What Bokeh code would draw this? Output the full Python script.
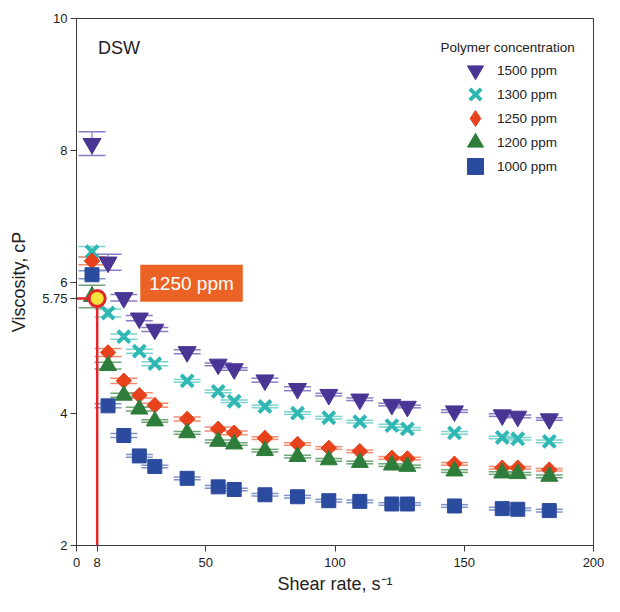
from bokeh.plotting import figure
from bokeh.models import (ColumnDataSource, Range1d, Whisker, TeeHead, Legend, LegendItem,
                          Label, FixedTicker)
from bokeh.embed import file_html
from bokeh.resources import INLINE

# ---------------- data ----------------
shear = [6, 12.2, 18.3, 24.3, 30.3, 42.8, 54.8, 61, 72.9, 85.5, 97.6, 109.6, 122, 128, 146.2, 164.7, 170.7, 182.9]

v1500 = [8.10, 6.30, 5.76, 5.45, 5.28, 4.94, 4.75, 4.68, 4.51, 4.38, 4.29, 4.22, 4.14, 4.11, 4.04, 3.98, 3.96, 3.92]
v1300 = [6.46, 5.53, 5.17, 4.95, 4.76, 4.50, 4.34, 4.19, 4.11, 4.01, 3.94, 3.88, 3.82, 3.77, 3.71, 3.64, 3.62, 3.58]
v1250 = [6.32, 4.93, 4.50, 4.28, 4.13, 3.92, 3.77, 3.71, 3.63, 3.54, 3.48, 3.43, 3.33, 3.32, 3.24, 3.18, 3.18, 3.15]
v1200 = [5.78, 4.73, 4.28, 4.07, 3.89, 3.71, 3.58, 3.54, 3.44, 3.35, 3.30, 3.26, 3.22, 3.20, 3.13, 3.10, 3.09, 3.05]
v1000 = [6.11, 4.12, 3.67, 3.36, 3.20, 3.02, 2.89, 2.85, 2.77, 2.74, 2.68, 2.67, 2.63, 2.63, 2.60, 2.56, 2.55, 2.53]

e1500 = [0.18, 0.12, 0.05, 0.04, 0.03, 0.03, 0.02, 0.02, 0.03, 0.03, 0.02, 0.02, 0.02, 0.02, 0.02, 0.02, 0.02, 0.02]
e1300 = [0.08, 0.06, 0.04, 0.03, 0.03, 0.02, 0.02, 0.02, 0.02, 0.02, 0.02, 0.02, 0.02, 0.02, 0.02, 0.02, 0.02, 0.02]
e1250 = [0.06, 0.06, 0.04, 0.04, 0.03, 0.03, 0.03, 0.03, 0.02, 0.02, 0.02, 0.02, 0.02, 0.02, 0.02, 0.02, 0.02, 0.02]
e1200 = [0.17, 0.05, 0.03, 0.03, 0.02, 0.02, 0.02, 0.02, 0.02, 0.02, 0.02, 0.02, 0.02, 0.02, 0.02, 0.02, 0.02, 0.02]
e1000 = [0.06, 0.03, 0.03, 0.02, 0.02, 0.02, 0.02, 0.02, 0.02, 0.02, 0.02, 0.02, 0.02, 0.02, 0.02, 0.02, 0.02, 0.02]

series_labels = ["1500 ppm", "1300 ppm", "1250 ppm", "1200 ppm", "1000 ppm"]
x_ticks = [0, 50, 100, 150, 200]
y_ticks = [2, 4, 6, 8, 10]

# highlighted point
hl_x = [8]
hl_y = [5.75]
hl_label = "1250 ppm"

FONT = "Liberation Sans"

p = figure(width=604, height=596, output_backend="svg", toolbar_location=None,
           x_range=Range1d(0, 200), y_range=Range1d(2, 10),
           min_border_left=76, min_border_right=11, min_border_top=18, min_border_bottom=50)
p.background_fill_color = "white"
p.border_fill_color = "white"
p.outline_line_color = "#3a3a3a"
p.outline_line_width = 1
p.xgrid.visible = False
p.ygrid.visible = False

for ax in (p.xaxis[0], p.yaxis[0]):
    ax.axis_line_color = "#3a3a3a"
    ax.major_tick_line_color = "#3a3a3a"
    ax.major_tick_in = 0
    ax.major_tick_out = 6
    ax.minor_tick_line_color = None
    ax.major_label_text_font = FONT
    ax.major_label_text_font_size = "13px"
    ax.major_label_text_color = "#222222"
    ax.axis_label_text_font = FONT
    ax.axis_label_text_font_size = "18px"
    ax.axis_label_text_font_style = "normal"
    ax.axis_label_text_color = "#222222"

# the highlighted coordinates are marked on the axes as extra ticks
p.xaxis.ticker = FixedTicker(ticks=sorted(x_ticks + hl_x))
p.yaxis.ticker = FixedTicker(ticks=sorted(y_ticks + hl_y))
p.xaxis.axis_label = "Shear rate, s\u207b\u00b9"
p.yaxis.axis_label = "Viscosity, cP"
p.xaxis.major_label_standoff = 6
p.xaxis.axis_label_standoff = 4
p.yaxis.major_label_standoff = 3
p.yaxis.axis_label_standoff = 10

colors = ["#4a3595", "#2fb8b3", "#e8421c", "#2e7d3a", "#2b4c9e"]
err_colors = ["#8a7cc4", "#7dd3cf", "#f28d72", "#6ea676", "#8193c9"]
values = [v1500, v1300, v1250, v1200, v1000]
errors = [e1500, e1300, e1250, e1200, e1000]

sources = []
for i, (vals, errs) in enumerate(zip(values, errors)):
    src = ColumnDataSource(dict(x=shear, y=vals,
                                upper=[v + e for v, e in zip(vals, errs)],
                                lower=[v - e for v, e in zip(vals, errs)]))
    w = Whisker(source=src, base="x", upper="upper", lower="lower", dimension="height",
                line_color=err_colors[i], line_width=1.2,
                upper_head=TeeHead(size=27, line_color=err_colors[i], line_width=1.5),
                lower_head=TeeHead(size=27, line_color=err_colors[i], line_width=1.5))
    p.add_layout(w)
    sources.append(src)

r1500 = p.scatter("x", "y", source=sources[0], marker="inverted_triangle", size=18,
                  fill_color=colors[0], line_color=colors[0])
r1300 = p.scatter("x", "y", source=sources[1], marker="x", size=17,
                  line_color=colors[1], line_width=4)
# diamond key (narrow, hidden under the rotated squares) used for the legend
r1250_key = p.scatter("x", "y", source=sources[2], marker="diamond", size=15,
                      fill_color=colors[2], line_color=colors[2])
r1250 = p.scatter("x", "y", source=sources[2], marker="square", size=11, angle=0.7854,
                  fill_color=colors[2], line_color=colors[2])
r1200 = p.scatter("x", "y", source=sources[3], marker="triangle", size=17,
                  fill_color=colors[3], line_color=colors[3])
r1000 = p.scatter("x", "y", source=sources[4], marker="square", size=14,
                  fill_color=colors[4], line_color=colors[4])

# highlight annotation
RED = "#e3262b"
p.segment(x0=[0], y0=hl_y, x1=hl_x, y1=hl_y, line_color=RED, line_width=2.5)
p.segment(x0=hl_x, y0=[2], x1=hl_x, y1=hl_y, line_color=RED, line_width=2.5)
p.scatter(hl_x, hl_y, marker="circle", size=16, fill_color="#f3e43c", line_color=RED, line_width=3)

p.add_layout(Label(x=24.67, y=5.70, text=hl_label, text_align="left",
                   text_baseline="bottom", text_font=FONT, text_font_size="19px",
                   text_color="white", background_fill_color="#ea6324", padding=(9, 8)))

# in-plot texts
p.add_layout(Label(x=8.35, y=9.55, text="DSW", text_align="left", text_baseline="middle",
                   text_font=FONT, text_font_size="18px", text_color="#222222"))
p.add_layout(Label(x=140.8, y=9.56, text="Polymer concentration", text_align="left",
                   text_baseline="middle", text_font=FONT, text_font_size="13.5px",
                   text_color="#222222"))

# legend split in two interleaved columns so that the keys can be drawn large
leg_style = dict(padding=0, margin=0, spacing=8, glyph_width=40, glyph_height=40,
                 label_standoff=2, label_text_font=FONT, label_text_font_size="13.5px",
                 label_text_color="#222222", border_line_alpha=0, background_fill_alpha=0)
legend_a = Legend(items=[LegendItem(label=series_labels[0], renderers=[r1500]),
                         LegendItem(label=series_labels[2], renderers=[r1250_key]),
                         LegendItem(label=series_labels[4], renderers=[r1000])],
                  location=(379, 359), **leg_style)
legend_b = Legend(items=[LegendItem(label=series_labels[1], renderers=[r1300]),
                         LegendItem(label=series_labels[3], renderers=[r1200])],
                  location=(379, 383), **leg_style)
p.add_layout(legend_a)
p.add_layout(legend_b)

open("out.html", "w").write(file_html(p, INLINE))
